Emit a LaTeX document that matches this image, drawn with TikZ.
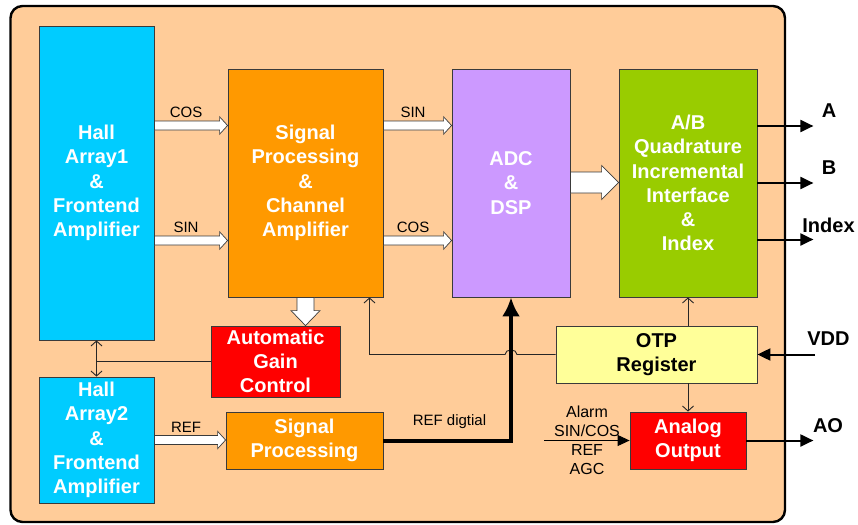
\documentclass[tikz,border=0pt]{standalone}
\usepackage{fontspec}
\setmainfont{Liberation Sans}
\usetikzlibrary{arrows.meta,calc}
\definecolor{bg}{HTML}{FFCC99}
\definecolor{hallc}{HTML}{00CCFF}
\definecolor{spc}{HTML}{FF9900}
\definecolor{adcc}{HTML}{CC99FF}
\definecolor{abc}{HTML}{99CC00}
\definecolor{redc}{HTML}{FF0000}
\definecolor{otpc}{HTML}{FFFF99}
\definecolor{edge}{HTML}{3A3A3A}
% hollow horizontal block arrow: from anchor, to anchor, y, body half, head half, head length
\newcommand\harr[6]{%
  \draw[hollow] (#1 |- 0,#3-#4) -- ($(#2 |- 0,#3-#4)+(-#6,0)$) -- ($(#2 |- 0,#3-#5)+(-#6,0)$)
    -- (#2 |- 0,#3) -- ($(#2 |- 0,#3+#5)+(-#6,0)$) -- ($(#2 |- 0,#3+#4)+(-#6,0)$)
    -- (#1 |- 0,#3+#4) -- cycle;}
\begin{document}
\begin{tikzpicture}[x=1pt,y=-1pt,
  blk/.style={draw=edge,line width=0.8pt,inner sep=0pt,align=center,text=white,
    font=\fontsize{20}{24.2}\selectfont\bfseries},
  lbl/.style={font=\fontsize{15}{18}\selectfont,inner sep=0pt,text depth=0pt},
  sidelbl/.style={font=\fontsize{16}{19}\selectfont,inner sep=0pt,anchor=base},
  outlbl/.style={font=\fontsize{20}{24}\selectfont\bfseries,inner sep=0pt,text depth=0pt},
  hollow/.style={draw=edge,fill=white,line width=0.7pt,line join=miter},
  thinline/.style={draw=black!85,line width=0.9pt},
  barb/.style={-{Straight Barb[length=5pt,width=11pt]}},
  outarrow/.style={line width=2pt,-{Triangle[length=13pt,width=12pt]}},
  ]
\useasboundingbox (0,0) rectangle (858,524);
\draw[fill=bg, line width=2.4pt, rounded corners=12pt] (10.5,6) rectangle (785,522);

% blocks
\node[blk,fill=hallc,minimum width=115pt,minimum height=314pt] (h1) at (96.5,183)
  {Hall\\Array1\\\&\\Frontend\\Amplifier};
\node[blk,fill=spc,minimum width=155pt,minimum height=228pt] (sp1) at (305.5,183)
  {Signal\\Processing\\\&\\Channel\\Amplifier};
\node[blk,fill=adcc,minimum width=118pt,minimum height=228pt] (adc) at (511,183)
  {ADC\\\&\\DSP};
\node[blk,fill=abc,minimum width=138pt,minimum height=228pt] (ab) at (688,183)
  {A/B\\Quadrature\\Incremental\\Interface\\\&\\Index};
\node[blk,fill=redc,minimum width=129pt,minimum height=71pt] (agc) at (275.5,361.5)
  {Automatic\\Gain\\Control};
\node[blk,fill=hallc,minimum width=115pt,minimum height=126pt] (h2) at (96.5,440)
  {Hall\\Array2\\\&\\Frontend\\Amplifier};
\node[blk,fill=spc,minimum width=157pt,minimum height=57pt] (sp2) at (304.5,440.5)
  {Signal\\Processing};
\node[blk,fill=otpc,text=black,minimum width=201pt,minimum height=57pt] (otp) at (656.5,354.5)
  {OTP\\Register};
\node[blk,fill=redc,minimum width=116pt,minimum height=57pt] (ao) at (688,440.5)
  {Analog\\Output};

% hollow arrows
\harr{h1.east}{sp1.west}{125.5}{4.5}{8.7}{8}
\harr{h1.east}{sp1.west}{240.5}{4.5}{8.7}{8}
\harr{sp1.east}{adc.west}{125.5}{4.5}{8.7}{8}
\harr{sp1.east}{adc.west}{240.5}{4.5}{8.7}{8}
\harr{h2.east}{sp2.west}{440}{4.5}{8.7}{8}
\harr{adc.east}{ab.west}{182.5}{10.5}{17}{17}
\draw[hollow] ($(sp1.south)+(-8.5,0)$) -- ($(sp1.south|-agc.north)+(-8.5,-15)$)
  -- ($(sp1.south|-agc.north)+(-14.5,-15)$) -- (sp1.south|-agc.north)
  -- ($(sp1.south|-agc.north)+(14.5,-15)$) -- ($(sp1.south|-agc.north)+(8.5,-15)$)
  -- ($(sp1.south)+(8.5,0)$) -- cycle;

% labels on hollow arrows
\node[lbl] (lcos1) at (186,112.5) {COS};
\node[lbl] (lsin1) at (186,227) {SIN};
\node[lbl] (lsin2) at (413,112.5) {SIN};
\node[lbl] (lcos2) at (413,227) {COS};
\node[lbl] (lref) at (186,427) {REF};
\node[font=\fontsize{15}{18}\selectfont,inner sep=0pt,anchor=base] (lrefd) at (449.5,425) {REF digtial};

% thin connectors
\draw[thinline,barb] (ab.south |- otp.north) -- (ab.south);
\draw[thinline,barb] (ao.north |- otp.south) -- (ao.north);
\coordinate (bend) at (369.5,354.5);
\draw[thinline,barb] (otp.west) -- ($(otp.west -| adc.south)+(6,0)$)
  .. controls +(0,-6) and +(0,-6) .. ($(otp.west -| adc.south)+(-6,0)$)
  -- (bend) -- (bend |- sp1.south);
\draw[thinline] (agc.west) -- (agc.west -| h1.south);
\draw[thinline,{Straight Barb[length=5pt,width=11pt]}-{Straight Barb[length=5pt,width=11pt]}] (h1.south) -- (h2.north);

% thick REF digital
\draw[line width=4pt,-{Latex[length=19pt,width=18pt]}] (sp2.east) -- (sp2.east -| adc.south) -- (adc.south);

% outputs
\draw[outarrow] (ab.east |- 0,126) -- ++(56,0);
\draw[outarrow] (ab.east |- 0,183) -- ++(56,0);
\draw[outarrow] (ab.east |- 0,239.5) -- ++(56,0);
\coordinate (vdd) at (815,354.5);
\draw[outarrow] (vdd) -- (otp.east);
\draw[outarrow] (ao.east) -- ++(67,0);
\coordinate (ain) at (544,440.5);
\draw[line width=1pt,-{Triangle[length=12pt,width=11pt]}] (ain) -- (ao.west);

\node[outlbl] (la) at (829,110.5) {A};
\node[outlbl] (lb) at (829,167.5) {B};
\node[outlbl] (lidx) at (828.5,225) {Index};
\node[outlbl] (lvdd) at (828.5,339) {VDD};
\node[outlbl] (lao) at (828,425.5) {AO};

\node[sidelbl] (s1) at (587,417) {Alarm};
\node[sidelbl] (s2) at (587,436) {SIN/COS};
\node[sidelbl] (s3) at (587,455) {REF};
\node[sidelbl] (s4) at (587,474) {AGC};
\end{tikzpicture}
\end{document}
